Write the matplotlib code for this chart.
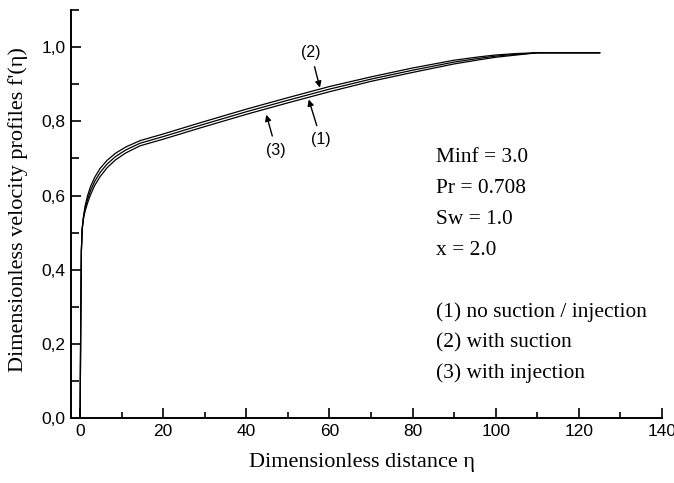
import numpy as np
import matplotlib
matplotlib.use("Agg")
import matplotlib.pyplot as plt
from matplotlib.ticker import MultipleLocator, FuncFormatter

# similarity coordinate eta and velocity profiles f'(eta)
eta = [0, 0.15, 0.3, 0.5, 0.8, 1.2, 1.8, 2.5, 3.5, 4.8, 6.5, 8.5, 11, 14.4,
       20, 28.8, 40, 50, 60, 70, 80, 90, 96, 100, 105, 110, 118, 125]

f_none = [0, 0.26, 0.45, 0.51, 0.54, 0.565, 0.59, 0.613, 0.638, 0.662, 0.685,
          0.705, 0.723, 0.741, 0.759, 0.789, 0.826, 0.857, 0.887, 0.914,
          0.938, 0.96, 0.97, 0.976, 0.981, 0.985, 0.985, 0.985]

f_suction = [0, 0.26, 0.45, 0.51, 0.543, 0.572, 0.6, 0.624, 0.649, 0.673, 0.695,
             0.714, 0.731, 0.748, 0.766, 0.796, 0.833, 0.864, 0.894, 0.92,
             0.944, 0.965, 0.974, 0.979, 0.983, 0.985, 0.985, 0.985]

f_injection = [0, 0.26, 0.45, 0.51, 0.537, 0.558, 0.58, 0.602, 0.627, 0.651, 0.675,
               0.696, 0.715, 0.734, 0.752, 0.782, 0.819, 0.85, 0.88, 0.908,
               0.932, 0.955, 0.966, 0.973, 0.979, 0.985, 0.985, 0.985]

params = ["Minf = 3.0", "Pr = 0.708", "Sw = 1.0", "x = 2.0"]
cases = ["(1) no suction / injection", "(2) with suction", "(3) with injection"]

fig = plt.figure(figsize=(6.74, 4.83), dpi=100)
ax = fig.add_axes([0.1053, 0.1346, 0.8769, 0.8444])

for f in (f_none, f_suction, f_injection):
    ax.plot(eta, f, color="black", lw=0.9)

ax.set_xlim(-2.2, 140)
ax.set_ylim(0, 1.1)

for side in ("top", "right"):
    ax.spines[side].set_visible(False)
for side in ("left", "bottom"):
    ax.spines[side].set_linewidth(1.4)

ax.xaxis.set_major_locator(MultipleLocator(20))
ax.xaxis.set_minor_locator(MultipleLocator(10))
ax.yaxis.set_major_locator(MultipleLocator(0.2))
ax.yaxis.set_minor_locator(MultipleLocator(0.1))
ax.yaxis.set_major_formatter(FuncFormatter(lambda v, p: ("%.1f" % v).replace(".", ",")))
ax.tick_params(which="both", direction="in", width=1.2,
               labelsize=12.5, labelfontfamily="Liberation Sans")
ax.tick_params(which="major", length=7, pad=4)
ax.tick_params(which="minor", length=4)
ax.tick_params(axis="y", which="minor", length=6)

serif = "Liberation Serif"
ax.set_xlabel("Dimensionless distance η", fontsize=16, family=serif)
ax.set_ylabel("Dimensionless velocity profiles f'(η)", fontsize=16, family=serif)
ax.xaxis.set_label_coords(0.492, -0.085)
ax.yaxis.set_label_coords(-0.072, 0.51)

# parameter block and case list
for i, s in enumerate(params):
    ax.text(85.7, 0.703 - i * 0.084, s, fontsize=15.4, family=serif, va="center")
for i, s in enumerate(cases):
    ax.text(85.7, 0.285 - i * 0.082, s, fontsize=15.4, family=serif, va="center")

arrow = dict(arrowstyle="-|>", color="black", lw=1.0, mutation_scale=9,
             shrinkA=3, shrinkB=0)
lab = dict(fontsize=11.5, family="Liberation Sans", ha="center", va="center")
ax.annotate("(2)", xy=(57.7, 0.891), xytext=(55.5, 0.986), arrowprops=arrow, **lab)
ax.annotate("(1)", xy=(55.0, 0.859), xytext=(58.0, 0.750), arrowprops=arrow, **lab)
ax.annotate("(3)", xy=(44.8, 0.818), xytext=(47.2, 0.722), arrowprops=arrow, **lab)

fig.savefig("out.png", dpi=100)
